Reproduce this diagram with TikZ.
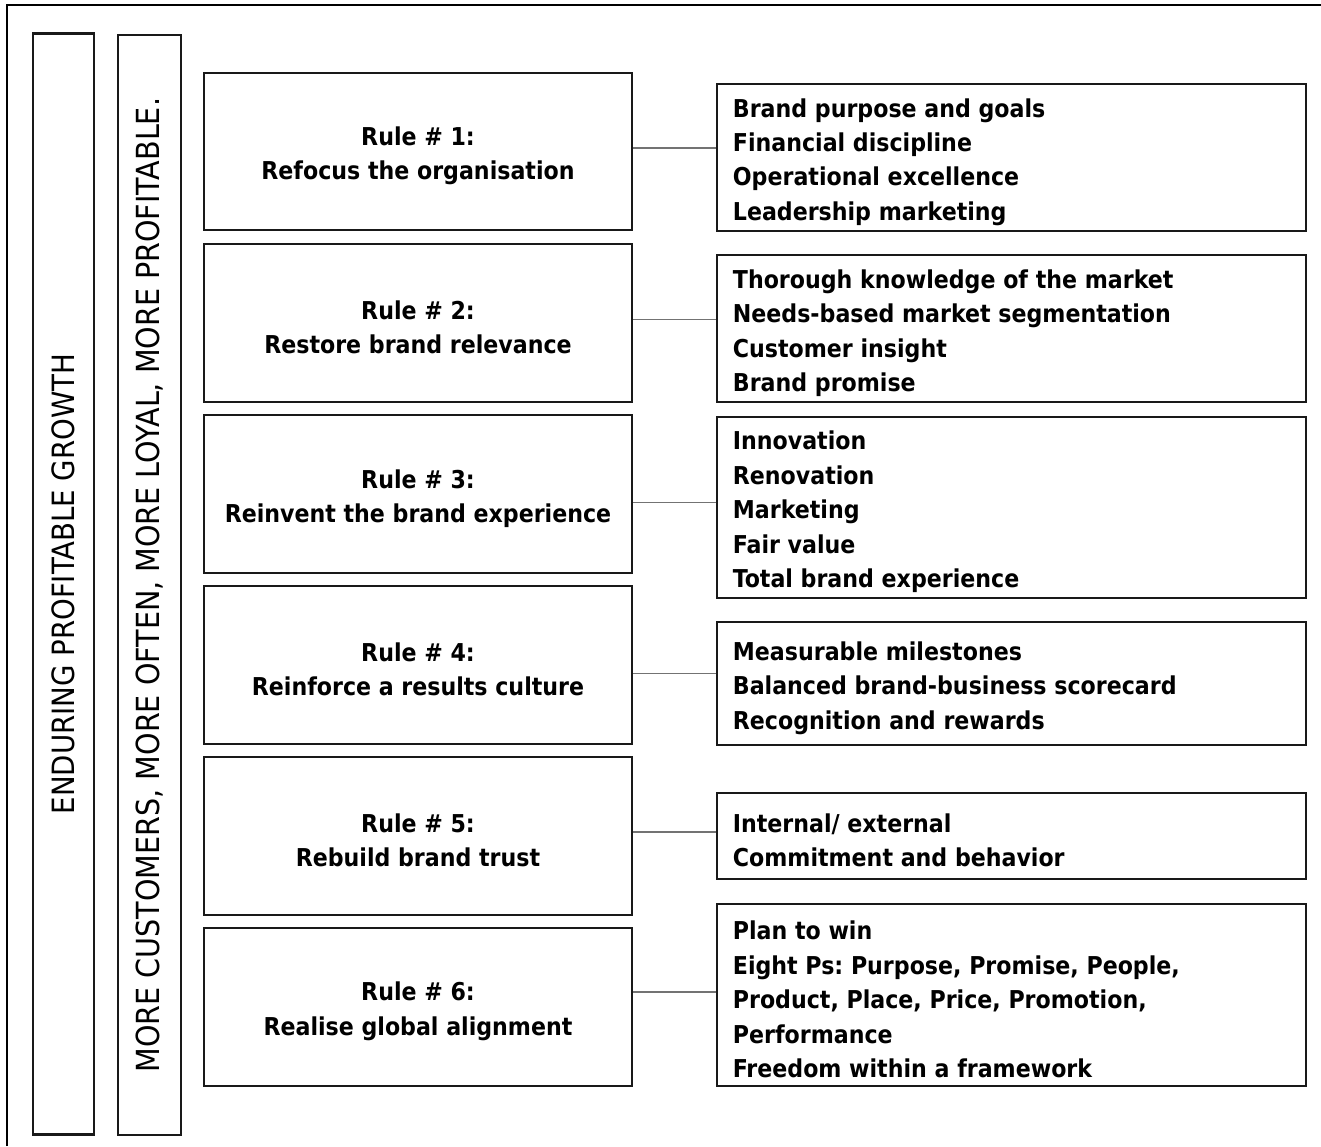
\documentclass[tikz,border=0pt]{standalone}
\usepackage{fontspec}
\setmainfont{DejaVu Sans Condensed}
\frenchspacing
\begin{document}
\begin{tikzpicture}[x=1pt,y=-1pt,
  box/.style={draw=black!90, line width=2.6pt, rectangle, inner sep=0pt},
  rulebox/.style={box, minimum width=428pt},
  infobox/.style={box, minimum width=589pt},
  boldtext/.style={inner sep=0pt, font=\fontsize{24.6}{34.45}\selectfont\bfseries},
  ruletext/.style={boldtext, align=center},
  infotext/.style={boldtext, align=left, anchor=west},
  colbox/.style={box, rotate=90},
  link/.style={draw=black!55, line width=1.4pt}]
\useasboundingbox (0,0) rectangle (1321,1146);
% open frame along the left and top edges
\draw[line width=2pt] (6.5,1146) -- (6.5,4.5) -- (1321,4.5);

% vertical outcome columns
\node[colbox, minimum width=1101pt, minimum height=61pt,
  font=\fontsize{30.7}{32}\selectfont] (grow) at (63.5,584)
  {ENDURING PROFITABLE GROWTH};
\node[colbox, minimum width=1100pt, minimum height=63pt,
  font=\fontsize{31.8}{33}\selectfont] (cust) at (149.5,585)
  {MORE CUSTOMERS, MORE OFTEN, MORE LOYAL, MORE PROFITABLE.};

% the six rules
\node[rulebox, minimum height=157pt] (r1) at (418,151.5) {};
\node[rulebox, minimum height=158pt] (r2) at (418,323) {};
\node[rulebox, minimum height=158pt] (r3) at (418,494) {};
\node[rulebox, minimum height=158pt] (r4) at (418,665) {};
\node[rulebox, minimum height=158pt] (r5) at (418,836) {};
\node[rulebox, minimum height=158pt] (r6) at (418,1007) {};
\node[ruletext] (t1) at ([yshift=-4.5pt]r1.center) {Rule \# 1:\\Refocus the organisation};
\node[ruletext] (t2) at ([yshift=-4.5pt]r2.center) {Rule \# 2:\\Restore brand relevance};
\node[ruletext] (t3) at ([yshift=-4.5pt]r3.center) {Rule \# 3:\\Reinvent the brand experience};
\node[ruletext] (t4) at ([yshift=-4.5pt]r4.center) {Rule \# 4:\\Reinforce a results culture};
\node[ruletext] (t5) at ([yshift=-4.5pt]r5.center) {Rule \# 5:\\Rebuild brand trust};
\node[ruletext] (t6) at ([yshift=-4.5pt]r6.center) {Rule \# 6:\\Realise global alignment};

% what each rule involves
\node[infobox, minimum height=147pt] (i1) at (1011.5,157.5) {};
\node[infobox, minimum height=147pt] (i2) at (1011.5,328.5) {};
\node[infobox, minimum height=181pt] (i3) at (1011.5,507.5) {};
\node[infobox, minimum height=123pt] (i4) at (1011.5,683.5) {};
\node[infobox, minimum height=86pt] (i5) at (1011.5,836) {};
\node[infobox, minimum height=182pt] (i6) at (1011.5,995) {};
\node[infotext] (u1) at ([xshift=17pt,yshift=-4.5pt]i1.west)
  {Brand purpose and goals\\Financial discipline\\Operational excellence\\Leadership marketing};
\node[infotext] (u2) at ([xshift=17pt,yshift=-4.5pt]i2.west)
  {Thorough knowledge of the market\\Needs-based market segmentation\\Customer insight\\Brand promise};
\node[infotext] (u3) at ([xshift=17pt,yshift=-4.5pt]i3.west)
  {Innovation\\Renovation\\Marketing\\Fair value\\Total brand experience};
\node[infotext] (u4) at ([xshift=17pt,yshift=-4.5pt]i4.west)
  {Measurable milestones\\Balanced brand-business scorecard\\Recognition and rewards};
\node[infotext] (u5) at ([xshift=17pt,yshift=-4.5pt]i5.west)
  {Internal/ external\\Commitment and behavior};
\node[infotext] (u6) at ([xshift=17pt,yshift=-4.5pt]i6.west)
  {Plan to win\\Eight Ps: Purpose, Promise, People,\\Product, Place, Price, Promotion,\\Performance\\Freedom within a framework};

% connector heights
\coordinate (c1) at (0,148);
\coordinate (c2) at (0,319.5);
\coordinate (c3) at (0,502.7);
\coordinate (c4) at (0,673.3);
\coordinate (c5) at (0,832);
\coordinate (c6) at (0,992);
\foreach \k in {1,...,6}
  \draw[link] (r\k.east |- c\k) -- (i\k.west |- c\k);
\end{tikzpicture}
\end{document}
